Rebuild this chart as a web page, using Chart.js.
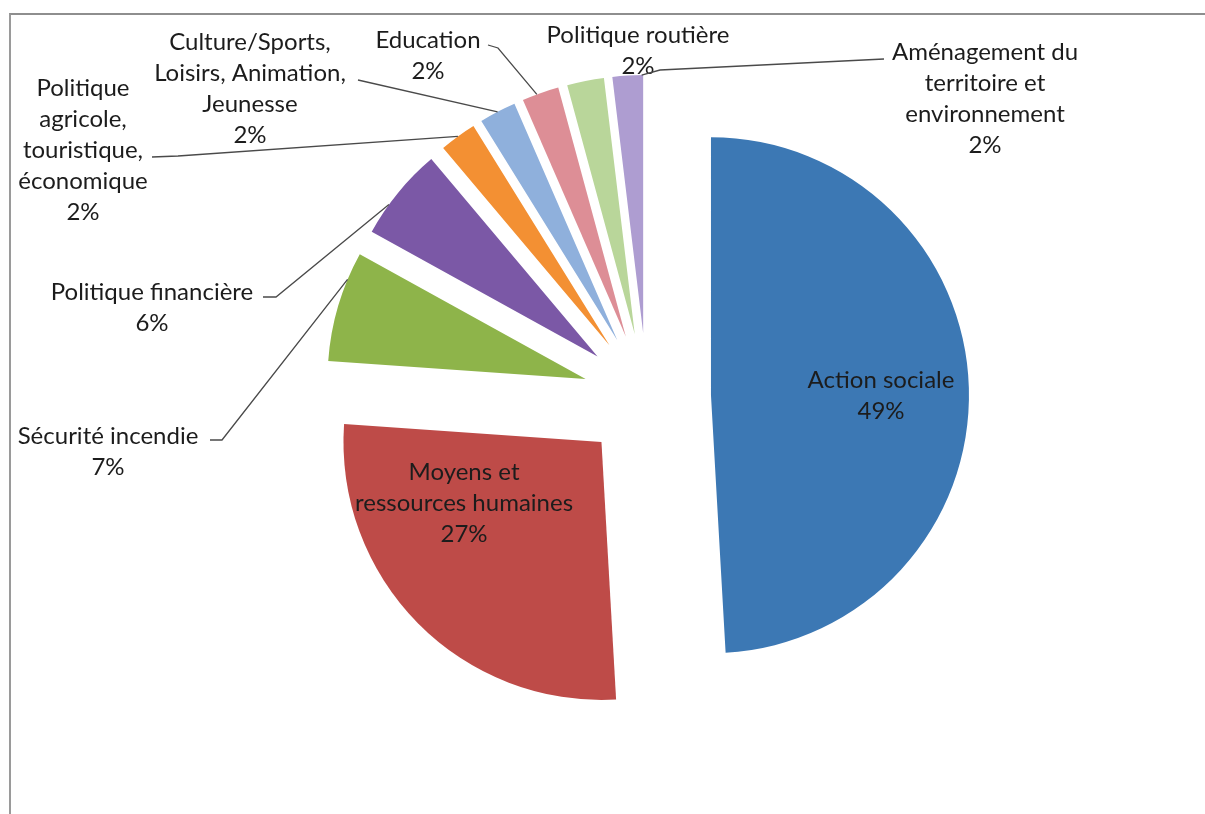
<!DOCTYPE html>
<html>
<head>
<meta charset="utf-8">
<script src="https://cdn.jsdelivr.net/npm/chart.js@4.4.1/dist/chart.umd.min.js"></script>
<style>
  html, body { margin: 0; padding: 0; background: #ffffff; }
  #wrap { position: relative; width: 1205px; height: 814px; overflow: hidden; }
  #frame { position: absolute; left: 9px; top: 13px; right: -10px; bottom: -10px;
           border-top: 2px solid #8e8e8e; border-left: 2px solid #9a9a9a; }
  canvas { position: absolute; left: 0; top: 0; }
</style>
</head>
<body>
<div id="wrap">
  <div id="frame"></div>
  <canvas id="c" width="1205" height="814"></canvas>
</div>
<script>
// ---- data ----
const categories = [
  'Action sociale',
  'Moyens et ressources humaines',
  'Sécurité incendie',
  'Politique financière',
  'Politique agricole, touristique, économique',
  'Culture/Sports, Loisirs, Animation, Jeunesse',
  'Education',
  'Politique routière',
  'Aménagement du territoire et environnement'
];
const values = [48.9, 26.9, 6.9, 5.8, 2.3, 2.3, 2.3, 2.3, 1.9];
const percentLabels = ['49%', '27%', '7%', '6%', '2%', '2%', '2%', '2%', '2%'];
const colors = ['#3C78B4', '#BE4B48', '#8EB44A', '#7B58A6', '#F39033',
                '#8FB0DC', '#DD8E96', '#B9D69A', '#AE9DD1'];

// ---- label layout (text placement, wrapping, leader lines) ----
const labelLayout = [
  { lines: ['Action sociale'], x: 881, y: 380 },
  { lines: ['Moyens et', 'ressources humaines'], x: 464, y: 472 },
  { lines: ['Sécurité incendie'], x: 108, y: 436, lead: [[210, 440], [222, 440]], frac: 0.75 },
  { lines: ['Politique financière'], x: 152, y: 292, lead: [[263, 297], [276, 297]], frac: 0.34 },
  { lines: ['Politique', 'agricole,', 'touristique,', 'économique'], x: 83, y: 88, lead: [[152, 157], [178, 156]], frac: 0.5 },
  { lines: ['Culture/Sports,', 'Loisirs, Animation,', 'Jeunesse'], x: 250, y: 42, lead: [[358, 80]], frac: 0.5 },
  { lines: ['Education'], x: 428, y: 40, lead: [[488, 45], [498, 48]], frac: 0.4 },
  { lines: ['Politique routière'], x: 638, y: 35 },
  { lines: ['Aménagement du', 'territoire et', 'environnement'], x: 985, y: 52, lead: [[884, 59], [660, 70]], frac: 0.95 }
];

const DISPLACE = 64;   // explosion distance in px
const RADIUS = 258;
const FONT = '24px Lato, "Open Sans", sans-serif';
const LINE_H = 31;

// Chart.js v4 arcs are translated by offset/4, but the same amount is also added to the
// radius and trimmed from the arc length of slices smaller than a half circle.
// Neutralise that so every exploded slice keeps the full radius and angle.
const explodeFix = {
  id: 'explodeFix',
  afterDatasetsUpdate(chart) {
    const meta = chart.getDatasetMeta(0);
    meta.data.forEach(el => {
      el.circumference = Math.PI / 2;   // makes the internal radius/angle correction zero
      el.outerRadius = RADIUS;
    });
  }
};

const labelsPlugin = {
  id: 'pieLabels',
  afterDatasetsDraw(chart) {
    const ctx = chart.ctx;
    const meta = chart.getDatasetMeta(0);
    ctx.save();
    meta.data.forEach((el, i) => {
      const L = labelLayout[i];
      if (!L) return;
      if (L.lead) {
        const s = el.startAngle, e = el.endAngle, m = (s + e) / 2;
        const cx = el.x + Math.cos(m) * DISPLACE;
        const cy = el.y + Math.sin(m) * DISPLACE;
        const a = s + (e - s) * L.frac;
        const px = cx + Math.cos(a) * RADIUS;
        const py = cy + Math.sin(a) * RADIUS;
        ctx.beginPath();
        ctx.strokeStyle = '#4a4a4a';
        ctx.lineWidth = 1.3;
        ctx.moveTo(L.lead[0][0], L.lead[0][1]);
        for (let k = 1; k < L.lead.length; k++) ctx.lineTo(L.lead[k][0], L.lead[k][1]);
        ctx.lineTo(px, py);
        ctx.stroke();
      }
      ctx.fillStyle = '#1c1c1c';
      ctx.font = FONT;
      ctx.textAlign = 'center';
      ctx.textBaseline = 'middle';
      const lines = L.lines.concat([percentLabels[i]]);
      lines.forEach((t, k) => ctx.fillText(t, L.x, L.y + k * LINE_H));
    });
    ctx.restore();
  }
};

new Chart(document.getElementById('c'), {
  type: 'pie',
  data: {
    labels: categories,
    datasets: [{
      data: values,
      backgroundColor: colors,
      borderWidth: 0,
      offset: DISPLACE * 4,
      hoverOffset: DISPLACE * 4
    }]
  },
  options: {
    responsive: false,
    animation: false,
    events: [],
    radius: RADIUS,
    layout: { padding: { left: 89, right: 0, top: 0, bottom: 20 } },
    plugins: { legend: { display: false }, tooltip: { enabled: false } }
  },
  plugins: [explodeFix, labelsPlugin]
});
</script>
</body>
</html>
